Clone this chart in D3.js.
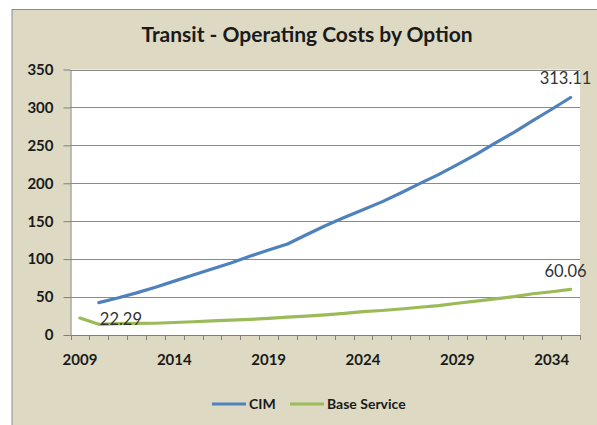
<!DOCTYPE html>
<html>
<head>
<meta charset="utf-8">
<script src="https://cdn.jsdelivr.net/npm/d3@7"></script>
<style>
  html, body { margin: 0; padding: 0; background: #fff; }
  svg { display: block; font-family: Lato, "Liberation Sans", sans-serif; }
</style>
</head>
<body>
<svg id="chart" width="597" height="425"></svg>
<script>
// Annual operating costs per option, 2009-2035
const years = d3.range(2009, 2036);
const cimYears = d3.range(2010, 2036);
const cimValues = [42.7, 48.8, 55.5, 63.0, 71.0, 79.0, 87.0, 95.0, 103.8, 112.0, 120.0,
  132.1, 144.0, 155.0, 165.0, 175.5, 187.2, 199.5, 211.4, 224.6, 238.0, 253.0, 267.2,
  282.7, 297.6, 313.11];
const baseYears = d3.range(2009, 2036);
const baseValues = [22.29, 14.1, 15.0, 15.2, 15.5, 16.5, 17.5, 18.5, 19.5, 20.5, 22.0,
  23.5, 25.0, 26.6, 28.4, 30.8, 32.3, 34.3, 36.6, 38.7, 41.9, 44.6, 47.6, 50.6, 54.4,
  57.0, 60.06];
const yTicks = [0, 50, 100, 150, 200, 250, 300, 350];
const xLabelYears = [2009, 2014, 2019, 2024, 2029, 2034];
const seriesNames = ["CIM", "Base Service"];
const seriesColors = ["#4F81BD", "#9BBB59"];

const svg = d3.select("#chart");

// chart frame
svg.append("rect").attr("x", 12).attr("y", 9.5).attr("width", 600).attr("height", 430)
  .attr("fill", "#DDD9C3").attr("stroke", "#8c8c8c").attr("stroke-width", 1);

const plot = { left: 70.5, right: 580, top: 69.5, bottom: 335 };

const x = d3.scaleBand().domain(years).range([plot.left, plot.right]).padding(0);
const cx = yr => x(yr) + x.bandwidth() / 2;
const y = d3.scaleLinear().domain([0, 350]).range([plot.bottom, plot.top]);

// plot area
svg.append("rect").attr("x", plot.left).attr("y", plot.top)
  .attr("width", plot.right - plot.left).attr("height", plot.bottom - plot.top)
  .attr("fill", "#ffffff");

// horizontal gridlines
svg.append("g").selectAll("line").data(yTicks.filter(v => v > 0)).join("line")
  .attr("x1", plot.left).attr("x2", plot.right)
  .attr("y1", d => Math.round(y(d)) + 0.5).attr("y2", d => Math.round(y(d)) + 0.5)
  .attr("stroke", "#8a8a8a").attr("stroke-width", 1);

// y axis
const yAxis = svg.append("g").attr("transform", `translate(${plot.left},0)`)
  .call(d3.axisLeft(y).tickValues(yTicks).tickSize(7).tickPadding(10).tickSizeOuter(0));
yAxis.select(".domain").attr("stroke", "#7f7f7f");
yAxis.selectAll(".tick line").attr("stroke", "#7f7f7f");
yAxis.selectAll(".tick text").attr("font-size", 15).attr("font-weight", "bold")
  .attr("fill", "#1a1a1a").attr("font-family", "Lato, sans-serif");

// x axis: baseline, ticks at category boundaries, labels every fifth year
const xAxisG = svg.append("g");
xAxisG.append("line").attr("x1", plot.left).attr("x2", plot.right)
  .attr("y1", plot.bottom + 0.5).attr("y2", plot.bottom + 0.5)
  .attr("stroke", "#7f7f7f");
const boundaries = years.map(yr => x(yr)).concat([plot.right]);
xAxisG.selectAll("line.tk").data(boundaries).join("line").attr("class", "tk")
  .attr("x1", d => Math.round(d) + 0.5).attr("x2", d => Math.round(d) + 0.5)
  .attr("y1", plot.bottom).attr("y2", plot.bottom + 5)
  .attr("stroke", "#7f7f7f");
const xLab = svg.append("g").attr("transform", `translate(0,${plot.bottom})`)
  .call(d3.axisBottom(x).tickValues(xLabelYears).tickSize(0).tickPadding(19));
xLab.select(".domain").remove();
xLab.selectAll(".tick text").attr("font-size", 15).attr("font-weight", "bold")
  .attr("fill", "#1a1a1a").attr("font-family", "Lato, sans-serif");

// series lines
const line = d3.line().x(d => cx(d[0])).y(d => y(d[1]));
const cimData = cimYears.map((yr, i) => [yr, cimValues[i]]);
const baseData = baseYears.map((yr, i) => [yr, baseValues[i]]);
[cimData, baseData].forEach((data, i) => {
  svg.append("path").datum(data).attr("d", line)
    .attr("fill", "none").attr("stroke", seriesColors[i]).attr("stroke-width", 3.2)
    .attr("stroke-linejoin", "round").attr("stroke-linecap", "round");
});

// value labels
const lastCim = cimData[cimData.length - 1];
const firstBase = baseData[0];
const lastBase = baseData[baseData.length - 1];
const lab = svg.append("g").attr("font-size", 16.5).attr("fill", "#333")
  .attr("font-family", "Lato, sans-serif");
lab.append("text").attr("x", cx(lastCim[0]) - 5).attr("y", y(lastCim[1]) - 13)
  .attr("text-anchor", "middle").text(lastCim[1].toFixed(2));
lab.append("text").attr("x", cx(lastBase[0]) - 5).attr("y", y(lastBase[1]) - 12)
  .attr("text-anchor", "middle").text(lastBase[1].toFixed(2));
lab.append("text").attr("x", cx(firstBase[0]) + 41).attr("y", y(firstBase[1]) + 7)
  .attr("text-anchor", "middle").text(firstBase[1].toFixed(2));

// title
svg.append("text").attr("x", 307).attr("y", 42).attr("text-anchor", "middle")
  .attr("font-size", 21).attr("font-weight", "bold").attr("fill", "#1a1a1a")
  .text("Transit - Operating Costs by Option");

// legend
const legend = svg.append("g").attr("font-size", 14).attr("font-weight", "bold")
  .attr("fill", "#1a1a1a");
const legendItems = [{ x: 212 }, { x: 290 }];
seriesNames.forEach((name, i) => {
  const g = legend.append("g").attr("transform", `translate(${legendItems[i].x},404)`);
  g.append("line").attr("x1", 0).attr("x2", 34).attr("y1", 0).attr("y2", 0)
    .attr("stroke", seriesColors[i]).attr("stroke-width", 3.2);
  g.append("text").attr("x", 37).attr("y", 5).text(name);
});
</script>
</body>
</html>
